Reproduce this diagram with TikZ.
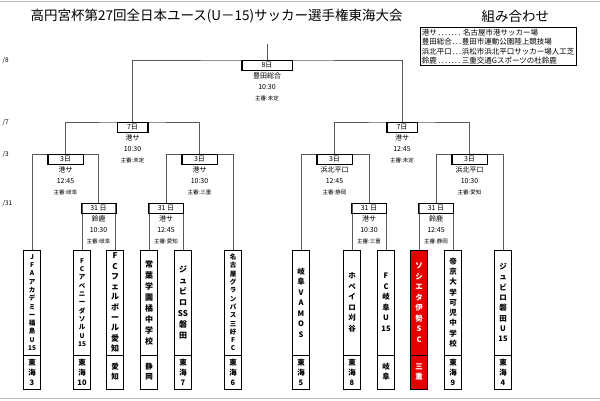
\documentclass[tikz,border=0pt]{standalone}
\usepackage{fontspec}
\setmainfont{Noto Sans CJK JP}
\usetikzlibrary{positioning}
\tikzset{
	teambox/.style={draw, line width=0.8pt, minimum width=17pt, minimum height=105pt, inner sep=0pt, align=center, font=\fontsize{6.5}{8.3}\selectfont\bfseries},
	areabox/.style={draw, line width=0.8pt, minimum width=17pt, minimum height=34pt, inner sep=0pt, align=center, font=\fontsize{7.5}{10}\selectfont\bfseries},
	daybox/.style={draw, line width=0.6pt, fill=white, minimum height=10pt, inner sep=0pt, anchor=north, font=\fontsize{7}{8}\selectfont},
	info/.style={below=1pt of #1, inner sep=0.5pt, align=center, font=\fontsize{7}{11}\selectfont},
	bracket/.style={draw=black!65, line width=0.6pt},
	redteam/.style={fill=red!90!black, text=white}
}
\newcommand{\shin}[1]{{\fontsize{5.5}{7}\selectfont 主審:#1}}
\begin{document}
\begin{tikzpicture}[x=1pt,y=-1pt]
	\useasboundingbox (0,0) rectangle (600,400);
	\draw [black!25, line width=1pt] (0,1) -- (600,1) (0,398.5) -- (600,398.5);
	\node [anchor=west, font=\fontsize{13.5}{15}\selectfont] (title) at (27,16) {高円宮杯第27回全日本ユース(U－15)サッカー選手権東海大会};
	\node [anchor=west, font=\fontsize{13.5}{15}\selectfont] (sub) at (478,16) {組み合わせ};
	\node [draw, line width=0.8pt, anchor=north west, inner sep=1.5pt, align=left, font=\fontsize{7.5}{9.5}\selectfont] (legend) at (420,27) {%
		\hbox to 40pt{港サ\dotfill}\,名古屋市港サッカー場\\
		\hbox to 40pt{豊田総合\dotfill}豊田市運動公園陸上競技場\\
		\hbox to 40pt{浜北平口\dotfill}浜松市浜北平口サッカー場人工芝\\
		\hbox to 40pt{鈴鹿\dotfill}三重交通Gスポーツの杜鈴鹿};
	% dates
	\foreach \d/\y in {8/60, 7/122, 3/154, 31/203}
		\node [anchor=west, font=\fontsize{6.5}{8}\selectfont] at (-1,\y) {/\d};
	% teams
	\node [teambox] (t1) at (32,302.5) {J\\F\\A\\ア\\カ\\デ\\ミ\\ー\\福\\島\\U\\15};
	\node [teambox] (t2) at (82,302.5) {F\\C\\ア\\ベ\\ニ\\ー\\ダ\\ソ\\ル\\U\\15};
	\node [teambox, font=\fontsize{8}{10.3}\selectfont\bfseries] (t3) at (115,302.5) {F\\C\\フ\\ェ\\ル\\ボ\\ー\\ル\\愛\\知};
	\node [teambox, font=\fontsize{8}{11}\selectfont\bfseries] (t4) at (149,302.5) {常\\葉\\学\\園\\橘\\中\\学\\校};
	\node [teambox, font=\fontsize{8}{11}\selectfont\bfseries] (t5) at (183,302.5) {ジ\\ュ\\ビ\\ロ\\SS\\磐\\田};
	\node [teambox] (t6) at (233,302.5) {名\\古\\屋\\グ\\ラ\\ン\\パ\\ス\\三\\好\\F\\C};
	\node [teambox, font=\fontsize{7.5}{10.5}\selectfont\bfseries] (t7) at (301,302.5) {岐\\阜\\V\\A\\M\\O\\S};
	\node [teambox, font=\fontsize{7.5}{10.5}\selectfont\bfseries] (t8) at (352,302.5) {ホ\\ペ\\イ\\ロ\\刈\\谷};
	\node [teambox, font=\fontsize{7.5}{10.5}\selectfont\bfseries] (t9) at (386,302.5) {F\\C\\岐\\阜\\U\\15};
	\node [teambox, redteam, font=\fontsize{7.5}{10.5}\selectfont\bfseries] (t10) at (419,302.5) {ソ\\シ\\エ\\タ\\伊\\勢\\S\\C};
	\node [teambox, font=\fontsize{7.5}{10.3}\selectfont\bfseries] (t11) at (453,302.5) {帝\\京\\大\\学\\可\\児\\中\\学\\校};
	\node [teambox, font=\fontsize{7.5}{10.3}\selectfont\bfseries] (t12) at (503,302.5) {ジ\\ュ\\ビ\\ロ\\磐\\田\\U\\15};
	\foreach \i/\x/\a in {1/32/東\\海\\3, 2/82/東\\海\\10, 3/115/愛\\知, 4/149/静\\岡, 5/183/東\\海\\7, 6/233/東\\海\\6, 7/301/東\\海\\5, 8/352/東\\海\\8, 9/386/岐\\阜, 11/453/東\\海\\9, 12/503/東\\海\\4}
		\node [areabox] (a\i) at (\x,372) {\a};
	\node [areabox, redteam] (a10) at (419,372) {三\\重};
	% first round
	\node [daybox, minimum width=34pt] (m1) at (98.5,203) {31 日};
	\node [info=m1] {鈴鹿\\10:30\\\shin{岐阜}};
	\node [daybox, minimum width=34pt] (m2) at (166,203) {31 日};
	\node [info=m2] {港サ\\12:45\\\shin{愛知}};
	\node [daybox, minimum width=34pt] (m3) at (369,203) {31 日};
	\node [info=m3] {港サ\\10:30\\\shin{三重}};
	\node [daybox, minimum width=34pt] (m4) at (436,203) {31 日};
	\node [info=m4] {鈴鹿\\12:45\\\shin{静岡}};
	% quarter finals
	\node [daybox, minimum width=35pt] (q1) at (65.5,154) {3日};
	\node [info=q1] {港サ\\12:45\\\shin{岐阜}};
	\node [daybox, minimum width=35pt] (q2) at (199.5,154) {3日};
	\node [info=q2] {港サ\\10:30\\\shin{三重}};
	\node [daybox, minimum width=35pt] (q3) at (334.5,154) {3日};
	\node [info=q3] {浜北平口\\12:45\\\shin{静岡}};
	\node [daybox, minimum width=35pt] (q4) at (469.5,154) {3日};
	\node [info=q4] {浜北平口\\10:30\\\shin{愛知}};
	% semi finals
	\node [daybox, minimum width=30pt] (s1) at (132.5,122) {7日};
	\node [info=s1] {港サ\\10:30\\\shin{未定}};
	\node [daybox, minimum width=30pt] (s2) at (402,122) {7日};
	\node [info=s2] {港サ\\12:45\\\shin{未定}};
	% final
	\node [daybox, minimum width=50pt] (f) at (267,60) {8日};
	\node [info=f] {豊田総合\\10:30\\\shin{未定}};
	\coordinate (top) at (267,44);
	% brackets
	\path [bracket] (t2.north) |- (m1.north) -| (t3.north);
	\path [bracket] (t4.north) |- (m2.north) -| (t5.north);
	\path [bracket] (t8.north) |- (m3.north) -| (t9.north);
	\path [bracket] (t10.north) |- (m4.north) -| (t11.north);
	\path [bracket] (t1.north) |- (q1.north) -| (m1.north);
	\path [bracket] (m2.north) |- (q2.north) -| (t6.north);
	\path [bracket] (t7.north) |- (q3.north) -| (m3.north);
	\path [bracket] (m4.north) |- (q4.north) -| (t12.north);
	\path [bracket] (q1.north) |- (s1.north) -| (q2.north);
	\path [bracket] (q3.north) |- (s2.north) -| (q4.north);
	\path [bracket] (s1.north) |- (f.north) -| (s2.north);
	\path [bracket] (f.north) -- (top);
	% redraw labels over lines
	\foreach \n in {m1,m2,m3,m4,q1,q2,q3,q4,s1,s2,f}
		\draw [line width=0.6pt] (\n.north west) rectangle (\n.south east);
\end{tikzpicture}
\end{document}
